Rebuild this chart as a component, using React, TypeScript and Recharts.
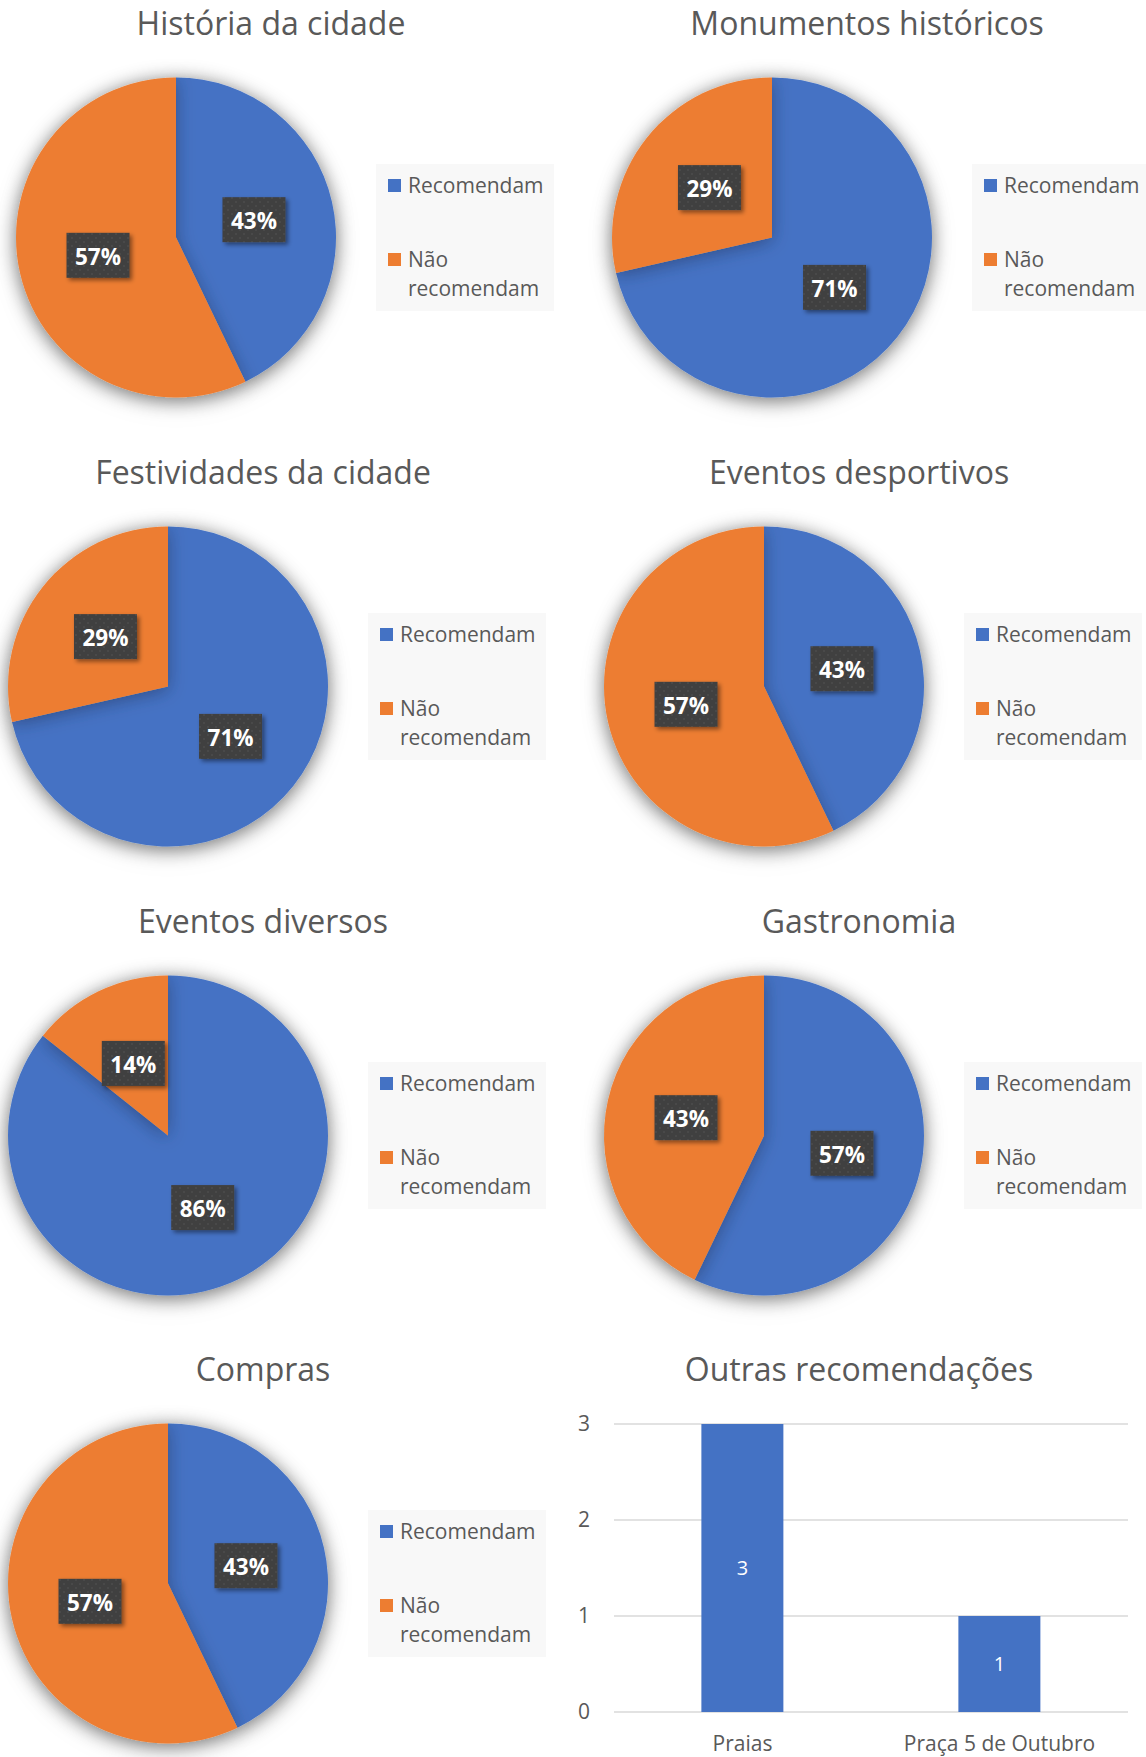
import { Bar, BarChart, CartesianGrid, Cell, LabelList, Legend, Pie, PieChart, XAxis, YAxis } from "recharts";

const categories = ["Recomendam", "Não recomendam"];
const palette = ["#4472C4", "#ED7D31"];

const pieTitles = [
  "História da cidade",
  "Monumentos históricos",
  "Festividades da cidade",
  "Eventos desportivos",
  "Eventos diversos",
  "Gastronomia",
  "Compras",
];
const recomendam = [3, 5, 5, 3, 6, 4, 3];
const naoRecomendam = [4, 2, 2, 4, 1, 3, 4];

const barTitle = "Outras recomendações";
const barCategories = ["Praias", "Praça 5 de Outubro"];
const barValues = [3, 1];
const barTicks = [0, 1, 2, 3];

// panel offsets on the page
const panelPos = [
  { x: 8, y: 0 },
  { x: 604, y: 0 },
  { x: 0, y: 449 },
  { x: 596, y: 449 },
  { x: 0, y: 898 },
  { x: 596, y: 898 },
  { x: 0, y: 1346 },
];

const RAD = Math.PI / 180;
const textColor = "#595959";
const PAD = 30; // extra room round the pie so its shadow is not cut

function renderPieLabel(props: any) {
  const { cx, cy, midAngle, outerRadius, percent } = props;
  const r = outerRadius * 0.5;
  const x = cx + r * Math.cos(-midAngle * RAD);
  const y = cy + r * Math.sin(-midAngle * RAD);
  return (
    <g>
      <rect x={x - 31.5} y={y - 22.5} width={63} height={45} fill="url(#labelDots)" filter="url(#labelShadow)" />
      <text x={x} y={y + 1} textAnchor="middle" dominantBaseline="central" fill="#fff" fontWeight={700} fontSize={22.5}>
        {`${Math.round(percent * 100)}%`}
      </text>
    </g>
  );
}

function renderLegend() {
  return (
    <div style={{ width: 178, height: 147, background: "#F8F8F8", position: "relative" }}>
      {categories.map((name, i) => (
        <div key={name} style={{ position: "absolute", left: 0, top: 6.5 + i * 74, width: 178 }}>
          <span style={{ position: "absolute", left: 12, top: 8, width: 13, height: 13, background: palette[i] }} />
          <span
            style={{
              position: "absolute",
              left: 32,
              top: 0,
              width: 140,
              fontSize: 21,
              lineHeight: "29px",
              color: textColor,
              whiteSpace: "normal",
            }}
          >
            {name}
          </span>
        </div>
      ))}
    </div>
  );
}

function Title({ text }: { text: string }) {
  return (
    <div
      style={{
        position: "absolute",
        left: 0,
        top: 0,
        width: 526,
        height: 46,
        lineHeight: "46px",
        textAlign: "center",
        fontSize: 32,
        color: textColor,
        whiteSpace: "nowrap",
      }}
    >
      {text}
    </div>
  );
}

function PiePanel({ index }: { index: number }) {
  const data = categories.map((name, i) => ({
    name,
    value: i === 0 ? recomendam[index] : naoRecomendam[index],
  }));
  const pos = panelPos[index];
  return (
    <div style={{ position: "absolute", left: pos.x, top: pos.y, width: 560, height: 440 }}>
      <Title text={pieTitles[index]} />
      <div style={{ position: "absolute", left: -PAD, top: 0 }}>
        <PieChart width={560 + PAD} height={440} margin={{ top: 0, right: 0, bottom: 0, left: 0 }}>
          <Pie
            data={data}
            dataKey="value"
            nameKey="name"
            cx={168 + PAD}
            cy={237.5}
            outerRadius={160}
            startAngle={90}
            endAngle={-270}
            stroke="none"
            label={renderPieLabel}
            labelLine={false}
            className="pie-shadow"
            isAnimationActive={false}
          >
            {data.map((_, i) => (
              <Cell key={i} fill={palette[i]} />
            ))}
          </Pie>
          <Legend
            layout="vertical"
            align="right"
            verticalAlign="top"
            content={renderLegend}
            wrapperStyle={{ left: 368 + PAD, top: 164, width: 178, height: 147 }}
          />
        </PieChart>
      </div>
    </div>
  );
}

function BarPanel() {
  const data = barCategories.map((name, i) => ({ name, value: barValues[i] }));
  return (
    <div style={{ position: "absolute", left: 596, top: 1346, width: 550, height: 411 }}>
      <Title text={barTitle} />
      <div style={{ position: "absolute", left: -36, top: 54 }}>
        <BarChart width={586} height={357} data={data} margin={{ top: 24, right: 18, bottom: 0, left: 0 }} barCategoryGap="34%">
          <CartesianGrid vertical={false} stroke="#D9D9D9" strokeWidth={1.5} />
          <XAxis
            dataKey="name"
            axisLine={false}
            tickLine={false}
            tickSize={0}
            tickMargin={24}
            height={45}
            interval={0}
            tick={{ fill: textColor, fontSize: 21 }}
          />
          <YAxis
            domain={[0, 3]}
            ticks={barTicks}
            axisLine={false}
            tickLine={false}
            tickSize={0}
            tickMargin={24}
            width={54}
            tick={{ fill: textColor, fontSize: 21 }}
          />
          <Bar dataKey="value" fill="#4472C4" isAnimationActive={false}>
            <LabelList dataKey="value" position="center" fill="#fff" fontSize={20} />
          </Bar>
        </BarChart>
      </div>
    </div>
  );
}

export default function App() {
  return (
    <div
      style={{
        position: "absolute",
        left: 0,
        top: 0,
        width: 1146,
        height: 1757,
        background: "#fff",
        overflow: "hidden",
        fontFamily: "'Open Sans', sans-serif",
      }}
    >
      <style>{`.pie-shadow { filter: url(#pieShadow); } .recharts-surface { overflow: visible; }`}</style>
      <svg width={0} height={0} style={{ position: "absolute" }}>
        <defs>
          <filter id="pieShadow" x="-30%" y="-30%" width="160%" height="160%">
            <feDropShadow dx="0" dy="3" stdDeviation="9" floodColor="#000" floodOpacity="0.3" />
          </filter>
          <filter id="labelShadow" x="-30%" y="-30%" width="170%" height="170%">
            <feDropShadow dx="2.5" dy="2.5" stdDeviation="2" floodColor="#000" floodOpacity="0.45" />
          </filter>
          <pattern id="labelDots" width="8" height="8" patternUnits="userSpaceOnUse">
            <rect width="8" height="8" fill="#404040" />
            <circle cx="2" cy="2" r="0.8" fill="#555" />
            <circle cx="6" cy="6" r="0.8" fill="#555" />
          </pattern>
        </defs>
      </svg>
      {pieTitles.map((_, i) => (
        <PiePanel key={i} index={i} />
      ))}
      <BarPanel />
    </div>
  );
}
